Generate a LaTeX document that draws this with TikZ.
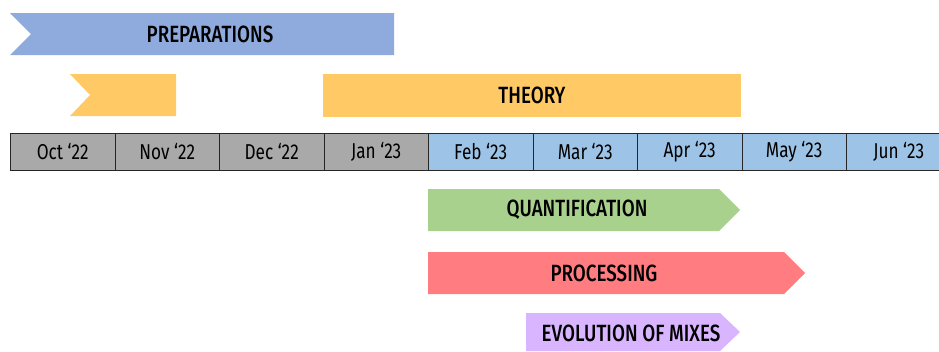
\documentclass[tikz,border=0pt]{standalone}
\usepackage{fontspec}
\setmainfont[FakeStretch=0.8]{Fira Sans}
\newfontfamily\labelfont[FakeStretch=0.8]{Fira Sans Medium}
\definecolor{prepblue}{HTML}{8FAADC}
\definecolor{theoryyellow}{HTML}{FFCA66}
\definecolor{pastgrey}{HTML}{A9A9A9}
\definecolor{futureblue}{HTML}{9DC3E6}
\definecolor{quantgreen}{HTML}{A9D18E}
\definecolor{procred}{HTML}{FF7C80}
\definecolor{evolpurple}{HTML}{DAB5FF}
\tikzset{
  monthcell/.style={draw=black!85, line width=0.9pt, minimum width=104.5pt, minimum height=37pt, inner sep=0pt, anchor=north west, font=\fontsize{21.5}{23}\selectfont},
  barlabel/.style={font=\labelfont\fontsize{23.5}{25}\selectfont, inner sep=0pt},
}
\begin{document}
\begin{tikzpicture}[x=1pt,y=-1pt]
\useasboundingbox (0,0) rectangle (939,351);
% bars
\fill[prepblue] (10,13) -- (394,13) -- (394,55) -- (10,55) -- (31,34) -- cycle;
\node[barlabel] (prep) at (210,34) {PREPARATIONS};
\fill[theoryyellow] (70,74) -- (176,74) -- (176,116) -- (70,116) -- (90,95) -- cycle;
\node[inner sep=0pt] (theorysmall) at (133,95) {};
\fill[theoryyellow] (323,74) rectangle (741,117);
\node[barlabel] (theory) at (532,95) {THEORY};
% timeline
\begin{scope}
\clip (0,0) rectangle (939,351);
\foreach \i/\m/\c in {0/Oct ‘22/pastgrey,1/Nov ‘22/pastgrey,2/Dec ‘22/pastgrey,3/Jan ‘23/pastgrey,4/Feb ‘23/futureblue,5/Mar ‘23/futureblue,6/Apr ‘23/futureblue,7/May ‘23/futureblue,8/Jun ‘23/futureblue}{
  \node[monthcell, fill=\c] (m\i) at (10+104.5*\i,133) {\m};
}
\end{scope}
% lower bars
\fill[quantgreen] (428,189) -- (719,189) -- (740,210) -- (719,231) -- (428,231) -- cycle;
\node[barlabel] (quant) at (577,210) {QUANTIFICATION};
\fill[procred] (428,252) -- (784,252) -- (805,273) -- (784,294) -- (428,294) -- cycle;
\node[barlabel] (proc) at (604,273) {PROCESSING};
\fill[evolpurple] (526,313) -- (720,313) -- (740,332) -- (720,351) -- (526,351) -- cycle;
\node[barlabel] (evol) at (631,333) {EVOLUTION OF MIXES};
\end{tikzpicture}
\end{document}
